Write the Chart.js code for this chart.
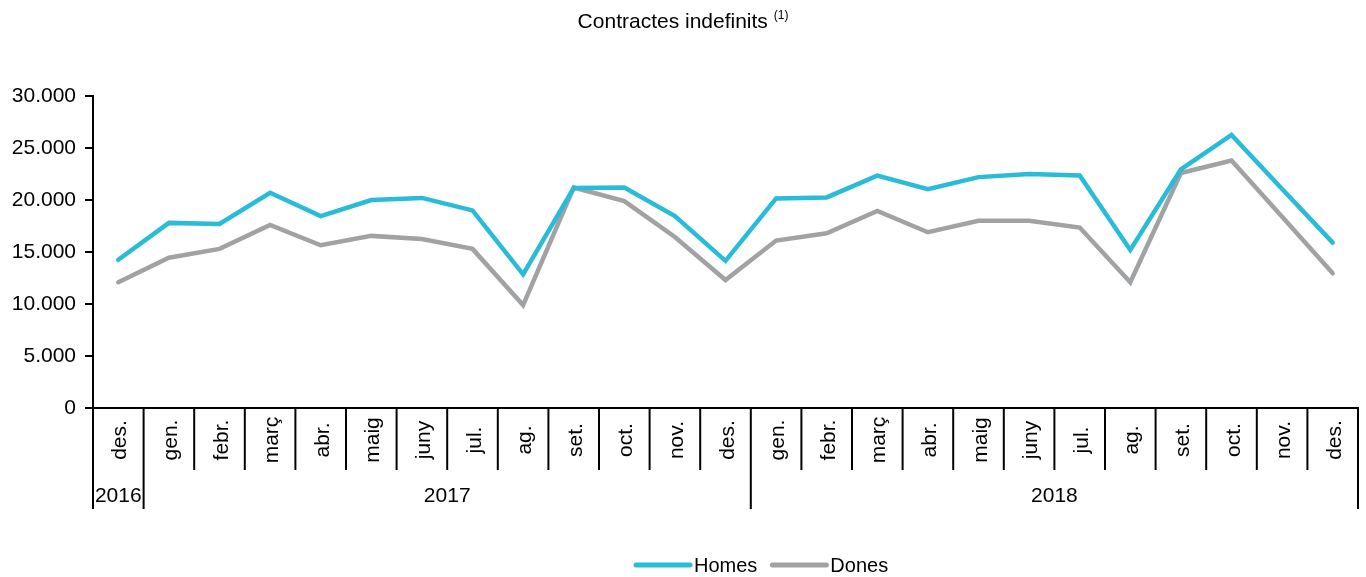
<!DOCTYPE html>
<html>
<head>
<meta charset="utf-8">
<script src="https://cdn.jsdelivr.net/npm/chart.js@4"></script>
<style>
html,body{margin:0;padding:0;background:#fff;}
#wrap{position:relative;width:1366px;height:577px;overflow:hidden;}
canvas{position:absolute;left:0;top:0;}
#title{position:absolute;left:0;top:9px;width:1366px;text-align:center;font-family:"Liberation Sans",Arial,sans-serif;font-size:21px;line-height:24px;color:#000;}
#title sup{font-size:12px;position:relative;top:-9px;vertical-align:baseline;}
</style>
</head>
<body>
<div id="wrap">
<canvas id="c" width="1366" height="577"></canvas>
<div id="title">Contractes indefinits <sup>(1)</sup></div>
</div>
<script>
// ---- data ----
const categories = ['des.','gen.','febr.','març','abr.','maig','juny','jul.','ag.','set.','oct.','nov.','des.',
                    'gen.','febr.','març','abr.','maig','juny','jul.','ag.','set.','oct.','nov.','des.'];
const years = ['2016','2017','2018'];
const yearMonthCounts = [1, 12, 12];
const homes = [14250, 17800, 17700, 20700, 18450, 20000, 20200, 19000, 12850, 21150, 21200, 18450, 14150,
               20150, 20250, 22350, 21050, 22200, 22500, 22350, 15200, 22950, 26250, 21050, 15900];
const dones = [12100, 14450, 15300, 17600, 15650, 16550, 16250, 15300, 9900, 21200, 19900, 16450, 12300,
               16100, 16800, 18950, 16900, 18000, 18000, 17350, 12100, 22600, 23800, 18400, 12950];
const yTicks = [0, 5000, 10000, 15000, 20000, 25000, 30000];

const FONT = '"Liberation Sans", Arial, sans-serif';
const CYAN = 'rgb(40,188,216)';
const GREY = 'rgb(160,162,164)';

function fmt(v){ return String(v).replace(/\B(?=(\d{3})+(?!\d))/g, '.'); }

const decoPlugin = {
  id: 'deco',
  afterDraw(chart){
    const ctx = chart.ctx, xs = chart.scales.x, area = chart.chartArea;
    const n = categories.length;
    const half = (xs.getPixelForValue(1) - xs.getPixelForValue(0)) / 2;
    const boundary = i => i < n ? xs.getPixelForValue(i) - half : xs.getPixelForValue(n - 1) + half;
    const groupBounds = [0];
    yearMonthCounts.forEach(c => groupBounds.push(groupBounds[groupBounds.length - 1] + c));
    ctx.save();
    ctx.strokeStyle = '#000';
    ctx.lineWidth = 2;
    for (let i = 0; i <= n; i++) {
      const bx = boundary(i);
      const isGroup = groupBounds.includes(i);
      ctx.beginPath();
      ctx.moveTo(bx, area.bottom);
      ctx.lineTo(bx, area.bottom + (isGroup ? 101 : 62));
      ctx.stroke();
    }
    ctx.fillStyle = '#000';
    ctx.font = '21px ' + FONT;
    ctx.textAlign = 'center';
    ctx.textBaseline = 'alphabetic';
    categories.forEach((m, i) => {
      const x = xs.getPixelForValue(i);
      ctx.save();
      ctx.translate(x + 8, area.bottom + 32);
      ctx.rotate(-Math.PI / 2);
      ctx.fillText(m, 0, 0);
      ctx.restore();
    });
    ctx.font = '21px ' + FONT;
    years.forEach((y, g) => {
      const cx = (boundary(groupBounds[g]) + boundary(groupBounds[g + 1])) / 2;
      ctx.fillText(y, cx, area.bottom + 94);
    });
    // legend
    ctx.font = '20px ' + FONT;
    ctx.textAlign = 'left';
    let lx = 636;
    const ly = 565;
    chart.data.datasets.forEach(ds => {
      ctx.strokeStyle = ds.borderColor;
      ctx.lineWidth = 5;
      ctx.lineCap = 'round';
      ctx.beginPath();
      ctx.moveTo(lx, ly);
      ctx.lineTo(lx + 54, ly);
      ctx.stroke();
      ctx.fillStyle = '#000';
      ctx.fillText(ds.label, lx + 58, ly + 7);
      lx += 58 + ctx.measureText(ds.label).width + 15;
    });
    ctx.restore();
  }
};

new Chart(document.getElementById('c'), {
  type: 'line',
  data: {
    labels: categories,
    datasets: [
      { label: 'Homes', data: homes, borderColor: CYAN, backgroundColor: CYAN, borderWidth: 4.5,
        pointRadius: 0, tension: 0, borderCapStyle: 'round', borderJoinStyle: 'miter' },
      { label: 'Dones', data: dones, borderColor: GREY, backgroundColor: GREY, borderWidth: 4.5,
        pointRadius: 0, tension: 0, borderCapStyle: 'round', borderJoinStyle: 'miter' }
    ]
  },
  options: {
    responsive: false,
    animation: false,
    devicePixelRatio: 1,
    layout: { padding: { top: 96, right: 8, left: 0, bottom: 0 } },
    plugins: { legend: { display: false }, title: { display: false }, tooltip: { enabled: false } },
    scales: {
      x: {
        type: 'category',
        offset: true,
        grid: { display: false },
        ticks: { display: false },
        border: { display: true, color: '#000', width: 2 },
        afterFit(s){ s.height = 577 - 408; }
      },
      y: {
        min: 0, max: 30000,
        afterBuildTicks(s){ s.ticks = yTicks.map(v => ({ value: v })); },
        ticks: { color: '#000', font: { family: FONT, size: 21 }, padding: 9, callback: v => fmt(v) },
        grid: { drawOnChartArea: false, drawTicks: true, tickLength: 8, color: '#000', lineWidth: 2 },
        border: { display: true, color: '#000', width: 2 },
        afterFit(s){ s.width = 93; }
      }
    }
  },
  plugins: [decoPlugin]
});
</script>
</body>
</html>
